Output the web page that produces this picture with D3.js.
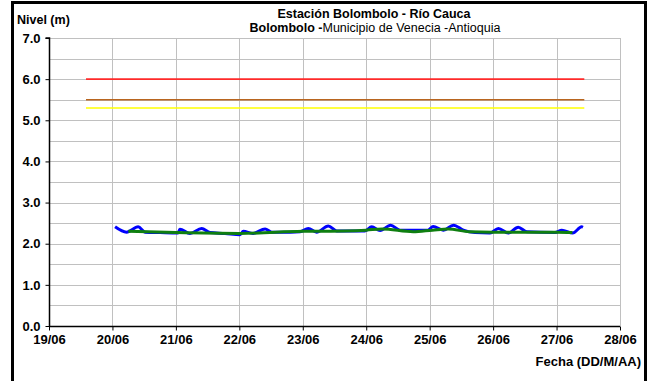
<!DOCTYPE html>
<html><head><meta charset="utf-8">
<script src="https://cdn.jsdelivr.net/npm/d3@7"></script>
<style>body{margin:0;background:#fff}svg{display:block;font-family:"Liberation Sans",Arial,sans-serif}</style>
</head><body>
<svg id="c" width="658" height="381"></svg>
<script>
// ---- data ----
const xDomain = ["2024-06-19T00:00", "2024-06-28T00:00"];
const yTicks = [0, 1, 2, 3, 4, 5, 6, 7];
const yGrid = [0.5, 1, 1.5, 2, 2.5, 3, 3.5, 4, 4.5, 5, 5.5, 6, 6.5, 7];
const xTickDays = ["2024-06-19","2024-06-20","2024-06-21","2024-06-22","2024-06-23","2024-06-24","2024-06-25","2024-06-26","2024-06-27","2024-06-28"];
const thresholdStart = "2024-06-19T14:00";
const thresholdEnd = "2024-06-27T10:30";
const thresholdValues = [6.0, 5.5, 5.3];
const thresholdColors = ["#ff2a2a", "#b8651f", "#ffff00"];
const nivelTimes = ["2024-06-20T01:00","2024-06-20T05:20","2024-06-20T09:45","2024-06-20T12:20","2024-06-20T18:00","2024-06-21T00:45",
 "2024-06-21T01:30","2024-06-21T05:20","2024-06-21T09:45","2024-06-21T12:55","2024-06-21T18:35","2024-06-22T00:15",
 "2024-06-22T01:30","2024-06-22T05:10","2024-06-22T09:45","2024-06-22T12:15","2024-06-22T19:10","2024-06-22T23:00",
 "2024-06-23T02:05","2024-06-23T05:15","2024-06-23T09:40","2024-06-23T12:50","2024-06-23T23:30",
 "2024-06-24T02:05","2024-06-24T05:15","2024-06-24T09:15","2024-06-24T12:45","2024-06-24T23:20",
 "2024-06-25T01:20","2024-06-25T05:10","2024-06-25T09:00","2024-06-25T12:45","2024-06-25T17:10","2024-06-25T22:50",
 "2024-06-26T02:00","2024-06-26T05:45","2024-06-26T09:30","2024-06-26T12:45","2024-06-26T23:25",
 "2024-06-27T02:00","2024-06-27T06:05","2024-06-27T09:30","2024-06-27T10:00"];
const nivelValues = [2.41,2.28,2.41,2.28,2.27,2.26,
 2.35,2.25,2.37,2.27,2.25,2.22,
 2.30,2.25,2.36,2.28,2.28,2.29,
 2.37,2.28,2.43,2.31,2.31,
 2.41,2.32,2.45,2.33,2.33,
 2.42,2.33,2.45,2.33,2.27,2.26,
 2.37,2.26,2.40,2.29,2.27,
 2.33,2.26,2.41,2.40];
const promTimes = ["2024-06-20T06:00","2024-06-21T00:00","2024-06-22T00:00","2024-06-23T00:00","2024-06-23T16:00","2024-06-24T00:00",
 "2024-06-24T06:00","2024-06-24T17:45","2024-06-25T01:00","2024-06-25T07:00","2024-06-25T15:00","2024-06-26T00:00","2024-06-27T00:00","2024-06-27T06:00"];
const promValues = [2.30,2.27,2.25,2.30,2.31,2.33,2.36,2.29,2.33,2.36,2.29,2.28,2.28,2.27];

// ---- chart ----
const FONT = "Liberation Sans, Arial, sans-serif";
const parse = d3.utcParse("%Y-%m-%dT%H:%M");
const parseDay = d3.utcParse("%Y-%m-%d");
const svg = d3.select("#c");
const x = d3.scaleUtc().domain(xDomain.map(parse)).range([49, 620]);
const y = d3.scaleLinear().domain([0, 7]).range([326, 38]);

// outer frame
svg.append("rect").attr("x", 12.5).attr("y", 2.5).attr("width", 633).attr("height", 400)
  .attr("fill", "none").attr("stroke", "#000").attr("stroke-width", 3);

// grid
const g = svg.append("g");
g.selectAll(".hg").data(yGrid).join("line")
  .attr("x1", 49).attr("x2", 620).attr("y1", d => Math.round(y(d)) + 0.5).attr("y2", d => Math.round(y(d)) + 0.5)
  .attr("stroke", "#c0c0c0").attr("stroke-width", 1);
g.selectAll(".vg").data(xTickDays.slice(1)).join("line")
  .attr("x1", d => Math.round(x(parseDay(d))) + 0.5).attr("x2", d => Math.round(x(parseDay(d))) + 0.5)
  .attr("y1", y(7)).attr("y2", y(0))
  .attr("stroke", "#c0c0c0").attr("stroke-width", 1);

// thresholds
svg.selectAll(".th").data(thresholdValues).join("line")
  .attr("x1", x(parse(thresholdStart))).attr("x2", x(parse(thresholdEnd)))
  .attr("y1", d => y(d)).attr("y2", d => y(d))
  .attr("stroke", (d, i) => thresholdColors[i]).attr("stroke-width", 1.6);

// series
const line = d3.line().x(d => x(d[0])).y(d => y(d[1])).curve(d3.curveMonotoneX);
const nivel = nivelTimes.map((t, i) => [parse(t), nivelValues[i]]);
const prom = promTimes.map((t, i) => [parse(t), promValues[i]]);
svg.append("path").datum(nivel).attr("d", line).attr("fill", "none").attr("stroke", "#0000ff").attr("stroke-width", 3).attr("stroke-linejoin", "round");
svg.append("path").datum(prom).attr("d", line).attr("fill", "none").attr("stroke", "#0f7f10").attr("stroke-width", 3).attr("stroke-linejoin", "round");

// axes
const yAxis = d3.axisLeft(y).tickValues(yTicks).tickFormat(d3.format(".1f")).tickSize(4).tickPadding(5);
const ya = svg.append("g").attr("transform", "translate(49.5,0)").call(yAxis);
ya.select(".domain").attr("stroke", "#000").attr("stroke-width", 1.5).attr("d", `M-4,${y(7)}H0V${y(0)}`);
ya.selectAll("text").attr("font-size", 13).attr("font-weight", "bold").attr("fill", "#000").attr("font-family", FONT);

const xAxis = d3.axisBottom(x).tickValues(xTickDays.map(parseDay)).tickFormat(d3.utcFormat("%d/%m")).tickSize(4).tickPadding(4);
const xa = svg.append("g").attr("transform", "translate(0,326.5)").call(xAxis);
xa.select(".domain").attr("stroke", "#000").attr("stroke-width", 1.5).attr("d", `M49,0H620`);
xa.selectAll(".tick line").attr("stroke", "#000");
xa.selectAll("text").attr("font-size", 13).attr("font-weight", "bold").attr("fill", "#000").attr("font-family", FONT);

// texts
svg.append("text").attr("x", 17).attr("y", 24).attr("font-size", 12.5).attr("font-weight", "bold").text("Nivel (m)");
svg.append("text").attr("x", 374).attr("y", 18).attr("text-anchor", "middle").attr("font-size", 12.5).attr("font-weight", "bold").text("Estación Bolombolo - Río Cauca");
const t2 = svg.append("text").attr("x", 375).attr("y", 32).attr("text-anchor", "middle").attr("font-size", 12.5);
t2.append("tspan").attr("font-weight", "bold").text("Bolombolo -");
t2.append("tspan").text("Municipio de Venecia -Antioquia");
svg.append("text").attr("x", 641).attr("y", 366).attr("text-anchor", "end").attr("font-size", 13).attr("font-weight", "bold").text("Fecha (DD/M/AA)");
</script>
</body></html>
